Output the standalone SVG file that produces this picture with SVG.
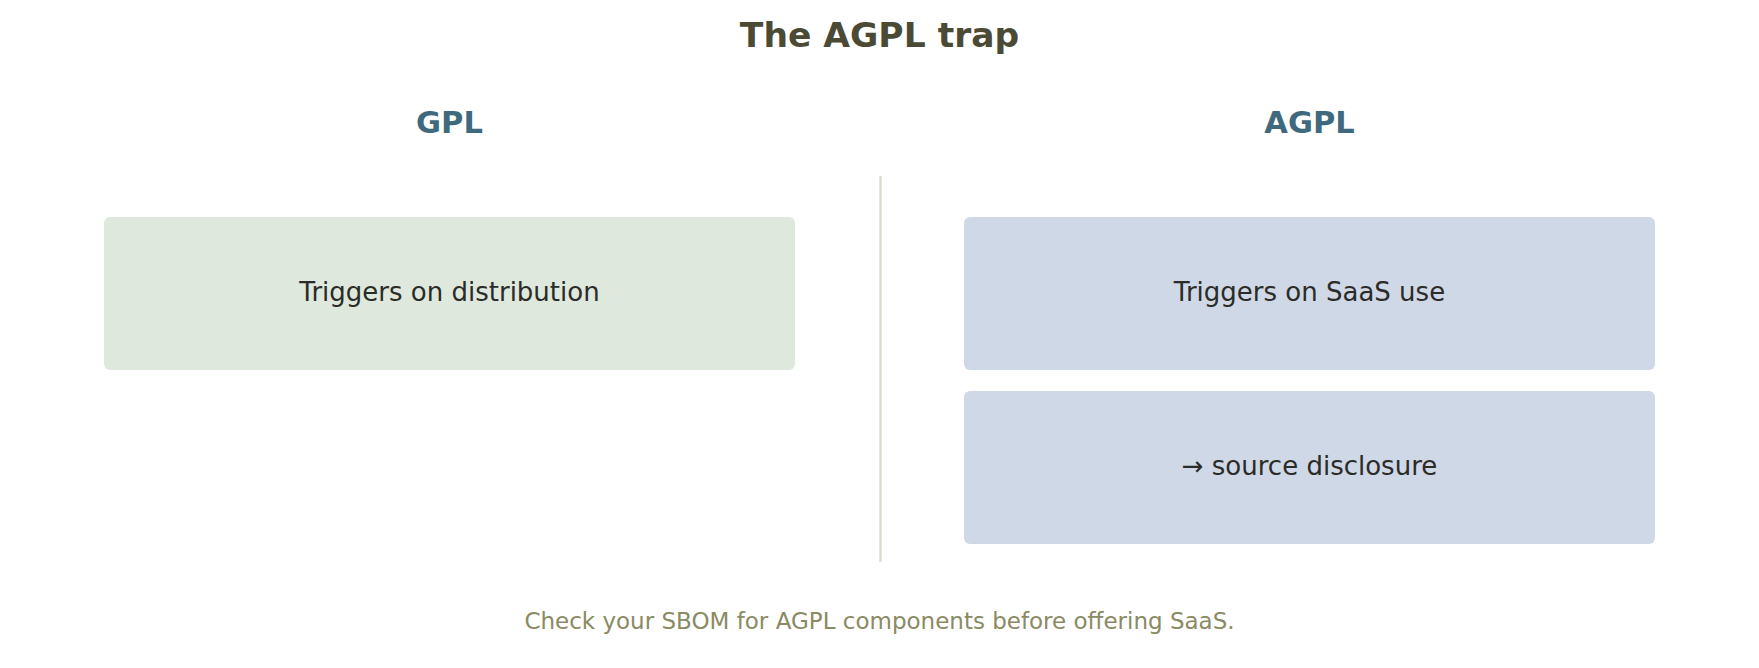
<svg xmlns="http://www.w3.org/2000/svg" width="1759" height="668" viewBox="0 0 1759 668">
<style>
.title{font-family:"DejaVu Sans",sans-serif;font-weight:bold;font-size:34.5px;fill:#4a4a35;text-anchor:middle}
.head{font-family:"DejaVu Sans",sans-serif;font-weight:bold;font-size:30.5px;fill:#3f6a7d;text-anchor:middle}
.body{font-family:"DejaVu Sans",sans-serif;font-size:26px;fill:#2b2b28;text-anchor:middle}
.foot{font-family:"DejaVu Sans",sans-serif;font-size:23px;fill:#8a8a63;text-anchor:middle}
.gpl{fill:#dfe8dd}
.agpl{fill:#cfd8e6}
</style>
<rect width="1759" height="668" fill="#ffffff"/>
<text class="title" x="879.5" y="47">The AGPL trap</text>
<text class="head" x="449.5" y="133">GPL</text>
<text class="head" x="1309.5" y="133">AGPL</text>
<g id="connectors">
<line x1="880.5" y1="176" x2="880.5" y2="562" stroke="#deded0" stroke-width="2.5"/>
</g>
<g id="gpl-distribution">
<rect class="gpl" x="104" y="217" width="691" height="153" rx="6"/>
<text class="body" x="449.5" y="301">Triggers on distribution</text>
</g>
<g id="agpl-saas">
<rect class="agpl" x="964" y="217" width="691" height="153" rx="6"/>
<text class="body" x="1309.5" y="301">Triggers on SaaS use</text>
</g>
<g id="agpl-disclosure">
<rect class="agpl" x="964" y="391" width="691" height="153" rx="6"/>
<text class="body" x="1309.5" y="475">→ source disclosure</text>
</g>
<text class="foot" x="879.5" y="629">Check your SBOM for AGPL components before offering SaaS.</text>
</svg>
